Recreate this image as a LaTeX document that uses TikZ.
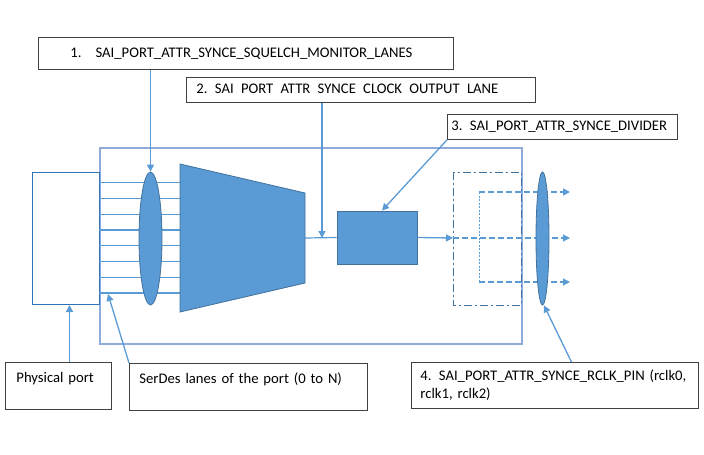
\documentclass[tikz,border=0pt]{standalone}
\usepackage{fontspec}
\setmainfont{Carlito}
\usetikzlibrary{arrows.meta,shapes.geometric}
\definecolor{accent}{HTML}{5B9BD5}
\definecolor{accentdark}{HTML}{41719C}
\definecolor{frameblue}{HTML}{8FAADC}
\definecolor{portblue}{HTML}{2E75B6}

\begin{document}
\begin{tikzpicture}[x=1pt, y=-1pt,
    callout/.style={rectangle, draw=black!75, line width=0.9pt, fill=white,
      anchor=north west, align=left, inner ysep=0pt,
      font=\fontsize{14.67}{17.6}\selectfont},
    tagbox/.style={callout, inner ysep=9.75pt, text height=10.5pt, text depth=17pt},
    conn/.style={draw=accent, line width=1.3pt, -{Triangle[length=7pt,width=7pt]}},
    lane/.style={draw=accent, line width=1.2pt},
    blob/.style={fill=accent, draw=accentdark, line width=0.8pt},
    outlane/.style={draw=accent, line width=1.3pt, dash pattern=on 6pt off 3pt,
      -{Triangle[length=7pt,width=7pt]}}
  ]
  \useasboundingbox (0,0) rectangle (704,455);

  % Port block
  \node[draw=frameblue, line width=1.8pt, minimum width=422, minimum height=196,
    anchor=north west, inner sep=0] (chip) at (99,147) {};
  \node[draw=portblue, line width=1pt, fill=white, minimum width=67, minimum height=132,
    anchor=north west, inner sep=0] (port) at (32,172) {};
  \foreach \i in {0,...,7}
    \draw[lane] (99,{182.7+15.75*\i}) -- (180,{182.7+15.75*\i});
  \node[ellipse, blob, minimum width=23, minimum height=133, inner sep=0] (sel) at (150.5,238.5) {};
  \filldraw[blob] (180,164) -- (305,193) -- (305,283) -- (180,312) -- cycle;
  \coordinate (muxout) at (305,238);
  \coordinate (tap) at (322,238);
  \coordinate (lanend) at (108,294);
  \node[rectangle, blob, minimum width=80, minimum height=53, inner sep=0] (div) at (377,237.5) {};
  \draw[lane] (muxout) -- (div.west);
  \coordinate (rclkin) at (453,238);
  \draw[conn] (div.east) -- (rclkin);

  % Recovered clock pins
  \draw[accentdark, line width=1pt, dash pattern=on 8pt off 3pt on 2pt off 3pt]
    (453,172) rectangle (521,305);
  \coordinate (pin0) at (570,192);
  \coordinate (pin1) at (570,238);
  \coordinate (pin2) at (570,282);
  \coordinate (fan0) at (479,192);
  \coordinate (fan2) at (479,282);
  \draw[accent, line width=0.7pt, dash pattern=on 2pt off 1.5pt] (fan0) -- (fan2);
  \draw[outlane] (fan0) -- (pin0);
  \draw[outlane] (rclkin) -- (pin1);
  \draw[outlane] (fan2) -- (pin2);
  \node[ellipse, blob, minimum width=13, minimum height=133, inner sep=0] (rclk) at (542.5,238.5) {};

  % Attribute callouts
  \node[callout, minimum width=415, minimum height=32, inner xsep=32pt, text width=351pt]
    (sq) at (38,37) {1.\hspace{14pt}SAI\_PORT\_ATTR\_SYNCE\_SQUELCH\_MONITOR\_LANES};
  \node[callout, minimum width=349, minimum height=25, inner xsep=10pt, text width=329pt]
    (clk) at (186,77) {2. SAI\phantom{\_}PORT\phantom{\_}ATTR\phantom{\_}SYNCE\phantom{\_}CLOCK\phantom{\_}OUTPUT\phantom{\_}LANE};
  \node[callout, minimum width=230, minimum height=25, inner xsep=4pt, text width=222pt]
    (dv) at (447,114) {3. SAI\_PORT\_ATTR\_SYNCE\_DIVIDER};
  \node[callout, minimum width=287, minimum height=46, inner xsep=9pt, text width=269pt]
    (rc) at (411,362) {4. SAI\_PORT\_ATTR\_SYNCE\_RCLK\_PIN (rclk0,\\rclk1, rclk2)};
  \node[tagbox, minimum width=106, inner xsep=11pt, text width=84pt]
    (pp) at (5,362) {Physical port};
  \node[tagbox, minimum width=238, inner xsep=10pt, text width=218pt]
    (sd) at (129,363) {SerDes lanes of the port (0 to N)};

  \draw[conn] (sq.south -| sel) -- (sel.north);
  \draw[conn] (clk.south -| tap) -- (tap);
  \draw[conn] (dv.south west) -- ([xshift=5pt]div.north);
  \draw[conn] ([xshift=3.5pt]pp.north -| port.south) -- ([xshift=3.5pt]port.south);
  \draw[conn] (sd.north west) -- (lanend);
  \draw[conn] ([xshift=16.5pt]rc.north) -- ([xshift=1.5pt]rclk.south);
\end{tikzpicture}
\end{document}
